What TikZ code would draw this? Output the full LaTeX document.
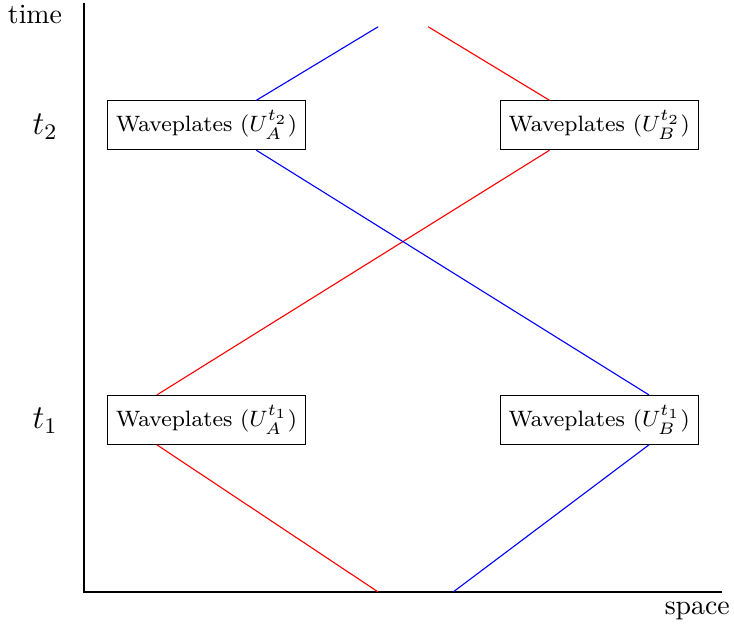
\documentclass[tikz,border=0pt]{standalone}
\usepackage{tikz}
\usetikzlibrary{calc}
\tikzset{
  plate/.style={draw=black, align=center, inner xsep=3pt, inner ysep=3.5pt, font=\footnotesize},
  axis/.style={line width=0.4pt},
  redray/.style={red, line width=0.4pt},
  blueray/.style={blue, line width=0.4pt},
  tlabel/.style={font=\large}
}

\begin{document}
\begin{tikzpicture}
\useasboundingbox (-1.062,-0.480) rectangle (8.214,7.481);
% axes
\draw[axis] (0,7.447) -- (0,0) -- (8.066,0);
\node (time) at (-0.620,7.295) {time};
\node (space) at (7.750,-0.240) {space};
\node[tlabel] (ttwo) at (-0.493,5.885) {$t_2$};
\node[tlabel] (tone) at (-0.493,2.165) {$t_1$};
% waveplates
\node[plate] (A1) at (1.549,2.175) {Waveplates $(U_A^{t_1})$};
\node[plate] (B1) at (6.511,2.175) {Waveplates $(U_B^{t_1})$};
\node[plate] (A2) at (1.549,5.898) {Waveplates $(U_A^{t_2})$};
\node[plate] (B2) at (6.511,5.898) {Waveplates $(U_B^{t_2})$};
% free ends
\coordinate (srcA) at (3.717,0);
\coordinate (srcB) at (4.665,0);
\coordinate (endA) at (3.717,7.143);
\coordinate (endB) at (4.349,7.143);
% photons
\draw[redray] (srcA) -- ($(A1.south west)!0.25!(A1.south east)$);
\draw[blueray] (srcB) -- ($(B1.south west)!0.75!(B1.south east)$);
\draw[redray] ($(A1.north west)!0.25!(A1.north east)$) -- ($(B2.south west)!0.25!(B2.south east)$);
\draw[blueray] ($(B1.north west)!0.75!(B1.north east)$) -- ($(A2.south west)!0.75!(A2.south east)$);
\draw[blueray] ($(A2.north west)!0.75!(A2.north east)$) -- (endA);
\draw[redray] ($(B2.north west)!0.25!(B2.north east)$) -- (endB);
\end{tikzpicture}
\end{document}
